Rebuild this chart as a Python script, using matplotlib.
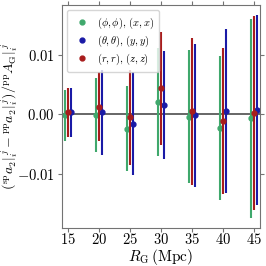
import numpy as np
import matplotlib
matplotlib.use("Agg")
import matplotlib.pyplot as plt

plt.rcParams["font.family"] = "serif"
plt.rcParams["font.serif"] = ["cmr10", "DejaVu Serif"]
plt.rcParams["mathtext.fontset"] = "cm"
plt.rcParams["axes.formatter.use_mathtext"] = True

R_G = [15, 20, 25, 30, 35, 40, 45]

# (phi, phi), (x, x)
green_val = [-0.0002, -0.0001, -0.0024, 0.0020, -0.0004, -0.0023, -0.0007]
green_err = [0.0043, 0.0062, 0.0072, 0.0091, 0.0112, 0.0122, 0.0168]
# (theta, theta), (y, y)
blue_val = [0.0003, 0.0003, -0.0016, 0.0016, -0.0002, 0.0006, 0.0007]
blue_err = [0.0041, 0.0071, 0.0087, 0.0091, 0.0120, 0.0138, 0.0160]
# (r, r), (z, z)
red_val = [0.0003, 0.0013, -0.0005, 0.0044, 0.0005, -0.0011, 0.0002]
red_err = [0.0041, 0.0058, 0.0080, 0.0095, 0.0124, 0.0123, 0.0164]

series = [
    (r"$(\phi,\phi),\,(x,x)$", green_val, green_err, "#3fa86c", -0.5),
    (r"$(\theta,\theta),\,(y,y)$", blue_val, blue_err, "#1a1aa6", 0.5),
    (r"$(r,r),\,(z,z)$", red_val, red_err, "#a81c1c", 0.0),
]

fig = plt.figure(figsize=(2.66, 2.66), dpi=100)
ax = fig.add_axes([0.232, 0.142, 0.745, 0.839])

x = np.array(R_G, dtype=float)
for label, val, err, col, off in series:
    ax.errorbar(x + off, val, yerr=err, fmt="none", ecolor=col, elinewidth=1.5)
    ax.plot(x + off, val, "o", color=col, markersize=3.5, label=label)

ax.axhline(0, color="0.3", lw=1.2, zorder=0)

ax.set_xlim(14, 46)
ax.set_xticks(R_G)
ax.set_yticks([-0.01, 0.0, 0.01])
ax.tick_params(direction="out", top=True, right=True, labelsize=10.5,
               color="0.45", length=3, pad=2)
ax.tick_params(axis="x", pad=0)
for s in ax.spines.values():
    s.set_color("0.45")

ax.set_xlabel(r"$R_{\rm G}\,({\rm Mpc})$", fontsize=11)
ax.xaxis.set_label_coords(0.5, -0.085)
ax.set_ylabel(r"$({}^{\rm sp}a_2|_i^{\,j} - {}^{\rm pp}a_2|_i^{\,j})/{}^{\rm pp}A_{\rm G}|_i^{\,j}$",
              fontsize=10)
ax.yaxis.set_label_coords(-0.215, 0.5)

ax.legend(loc="upper left", fontsize=7.5, handletextpad=0.6, borderpad=0.5,
          labelspacing=0.25, handlelength=1.8)

fig.savefig("out.png", dpi=100)
